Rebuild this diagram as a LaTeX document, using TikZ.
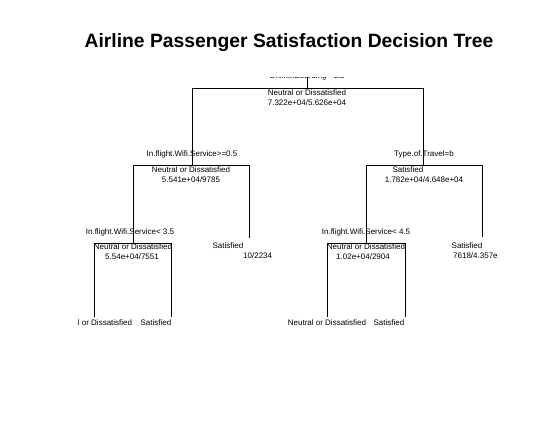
\documentclass[tikz,border=0pt]{standalone}
\usepackage{fontspec}
\setmainfont{Liberation Sans}
\usetikzlibrary{positioning}
\tikzset{
    branch/.style={draw, black, line width=0.85pt},
    splitlabel/.style={inner sep=0pt, font={\fontsize{8}{9.6}\selectfont}},
    leaflabel/.style={inner sep=0pt, font={\fontsize{8}{9.6}\selectfont}},
    countlabel/.style={inner sep=0pt, font={\fontsize{8}{9.6}\selectfont}},
    titlelabel/.style={inner sep=0pt, font={\fontsize{19.3}{23}\selectfont\bfseries}},
}

\begin{document}
\begin{tikzpicture}[x=1pt,y=-1pt]
\useasboundingbox (0,0) rectangle (538,424);

% Title
\node[titlelabel] (title) at (289,43) {Airline Passenger Satisfaction Decision Tree};

\begin{scope}
\clip (78,77) rectangle (497,420);

% Junctions
\coordinate (rootTop) at (307,66);
\coordinate (root) at (307,88);
\coordinate (wifiA) at (192,165);
\coordinate (travel) at (423,165);
\coordinate (wifiB) at (133,243);
\coordinate (wifiC) at (366,243);
\coordinate (leafA) at (94,317);
\coordinate (leafB) at (171,317);
\coordinate (leafC) at (249,238);
\coordinate (leafD) at (327,317);
\coordinate (leafE) at (405,317);
\coordinate (leafF) at (482,237);

% Branches
\draw[branch] (rootTop) -- (root);
\draw[branch] (root) -| (wifiA);
\draw[branch] (root) -| (travel);
\draw[branch] (wifiA) -| (wifiB);
\draw[branch] (wifiA) -| (leafC);
\draw[branch] (travel) -| (wifiC);
\draw[branch] (travel) -| (leafF);
\draw[branch] (wifiB) -| (leafA);
\draw[branch] (wifiB) -| (leafB);
\draw[branch] (wifiC) -| (leafD);
\draw[branch] (wifiC) -| (leafE);

% Split rules
\node[splitlabel] (ruleRoot) at (307,76.5) {Online.Boarding< 3.5};
\node[splitlabel] (ruleWifiA) at (192,154) {In.flight.Wifi.Service>=0.5};
\node[splitlabel] (ruleTravel) at (424,154) {Type.of.Travel=b};
\node[splitlabel] (ruleWifiB) at (130,232) {In.flight.Wifi.Service< 3.5};
\node[splitlabel] (ruleWifiC) at (366,232) {In.flight.Wifi.Service< 4.5};

% Inner node classes and counts
\node[leaflabel] (classRoot) at (307,93) {Neutral or Dissatisfied};
\node[countlabel] (countRoot) at (307,103) {7.322e+04/5.626e+04};
\node[leaflabel] (classWifiA) at (191,170) {Neutral or Dissatisfied};
\node[countlabel] (countWifiA) at (191,180) {5.541e+04/9785};
\node[leaflabel] (classTravel) at (408,170) {Satisfied};
\node[countlabel] (countTravel) at (424,180) {1.782e+04/4.648e+04};
\node[leaflabel] (classWifiB) at (133,247) {Neutral or Dissatisfied};
\node[countlabel] (countWifiB) at (132,257) {5.54e+04/7551};
\node[leaflabel] (classWifiC) at (366,247) {Neutral or Dissatisfied};
\node[countlabel] (countWifiC) at (363,257) {1.02e+04/2904};

% Leaves
\node[leaflabel] (classLeafC) at (228,246) {Satisfied};
\node[countlabel, anchor=west] (countLeafC) at (243,256) {10/2234};
\node[leaflabel] (classLeafF) at (467,246) {Satisfied};
\node[countlabel, anchor=west] (countLeafF) at (453,256) {7618/4.357e+04};
\node[leaflabel] (classLeafA) at (93,323) {Neutral or Dissatisfied};
\node[leaflabel] (classLeafB) at (156,323) {Satisfied};
\node[leaflabel] (classLeafD) at (327,323) {Neutral or Dissatisfied};
\node[leaflabel] (classLeafE) at (389,323) {Satisfied};
\end{scope}
\end{tikzpicture}
\end{document}
